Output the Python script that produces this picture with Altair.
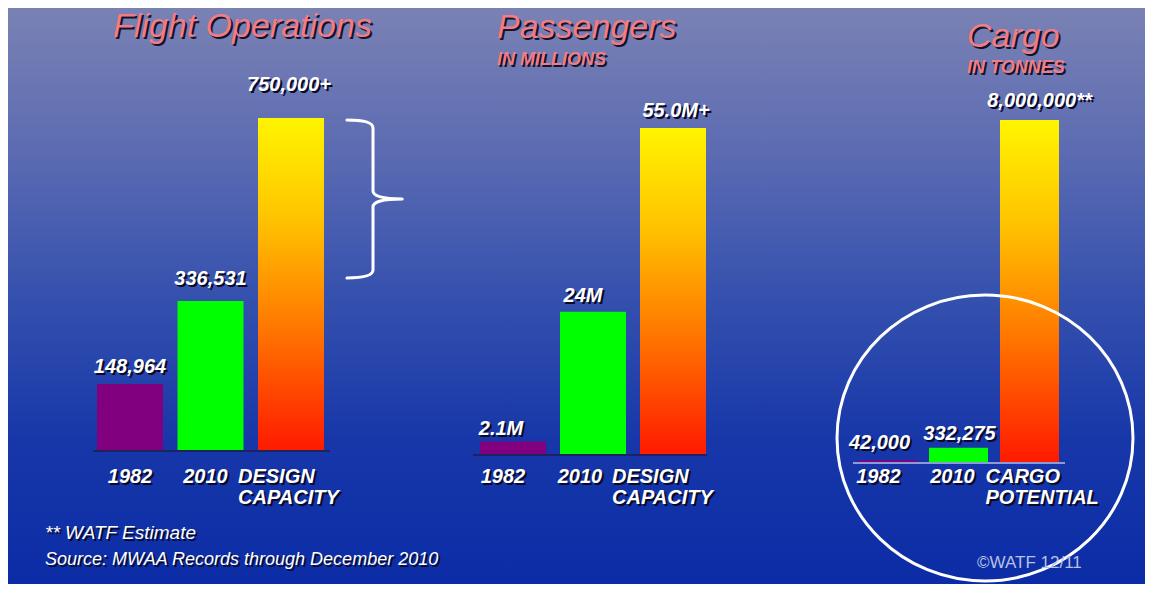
import altair as alt
import pandas as pd

FONT = "Liberation Sans"
HEIGHT = 576

# ---------------- data ----------------
FLIGHT_CATS = ["1982", "2010", "DESIGN\nCAPACITY"]
FLIGHT_VALUES = [148964, 336531, 750000]
FLIGHT_LABELS = ["148,964", "336,531", "750,000+"]

PAX_CATS = ["1982", "2010", "DESIGN\nCAPACITY"]
PAX_VALUES = [2.1, 24.0, 55.0]
PAX_LABELS = ["2.1M", "24M", "55.0M+"]

CARGO_CATS = ["1982", "2010", "CARGO\nPOTENTIAL"]
CARGO_VALUES = [42000, 332275, 8000000]
CARGO_LABELS = ["42,000", "332,275", "8,000,000**"]

# ---------------- styles ----------------
BAR_COLORS = ["#800080", "#00FF00", "#FF8000"]
TITLE_COLOR = "#F27C86"

BG_GRAD = alt.Gradient(
    gradient="linear",
    stops=[
        alt.GradientStop(color="#7A82B4", offset=0),
        alt.GradientStop(color="#5C6BB2", offset=0.25),
        alt.GradientStop(color="#3551AE", offset=0.5),
        alt.GradientStop(color="#1737A9", offset=0.75),
        alt.GradientStop(color="#0B2CA6", offset=1),
    ],
    x1=0, x2=0, y1=0, y2=1,
)
BAR_GRAD = alt.Gradient(
    gradient="linear",
    stops=[
        alt.GradientStop(color="#FFF500", offset=0),
        alt.GradientStop(color="#FFC400", offset=0.3),
        alt.GradientStop(color="#FF7A00", offset=0.62),
        alt.GradientStop(color="#FF1A00", offset=1),
    ],
    x1=0, x2=0, y1=0, y2=1,
)

BRACE = ("M -0.33 -1 Q 0 -1 0 -0.9 L 0 -0.1 Q 0 0 0.37 0 "
         "M 0.37 0 Q 0 0 0 0.1 L 0 0.9 Q 0 1 -0.33 1")
ELLIPSE = "M -1 0 A 1 0.966 0 1 1 1 0 A 1 0.966 0 1 1 -1 0 Z"

ONE = alt.Data(values=[{"k": 1}])


def shadow_text(data, encode, color, dx=0, dy=0, off=2, flt=None, shadow="#0A0A28", **kw):
    out = []
    for c, o in ((shadow, off), (color, 0)):
        ch = alt.Chart(data).mark_text(color=c, dx=dx + o, dy=dy + o, font=FONT, **kw).encode(**encode)
        if flt is not None:
            ch = ch.transform_filter(flt)
        out.append(ch)
    return out


def panel(cats, values, labels, width, xrange, pin, base, top, vdx, vdy, cdx,
          rule, rule_color, title, title_pos, sub, sub_y):
    df = pd.DataFrame({"cat": cats, "value": values, "label": labels,
                       "idx": [0, 1, 2], "fillc": BAR_COLORS})
    xs = alt.Scale(domain=cats, range=xrange, paddingInner=pin, paddingOuter=0)
    ys = alt.Scale(domain=[0, max(values)], range=[base, top], nice=False, zero=True)
    X = alt.X("cat:N", scale=xs, axis=None, sort=cats)
    Y = alt.Y("value:Q", scale=ys, axis=None)

    layers = []
    layers.append(alt.Chart(ONE).mark_rect(color=BG_GRAD).encode(
        x=alt.value(0), x2=alt.value(width), y=alt.value(0), y2=alt.value(HEIGHT)))
    layers.append(alt.Chart(df).mark_bar().encode(
        x=X, y=Y, color=alt.Color("fillc:N", scale=None)).transform_filter("datum.idx < 2"))
    layers.append(alt.Chart(df).mark_bar(color=BAR_GRAD).encode(
        x=X, y=Y).transform_filter("datum.idx == 2"))
    layers.append(alt.Chart(ONE).mark_rule(color=rule_color, strokeWidth=2).encode(
        x=alt.value(rule[0]), x2=alt.value(rule[1]), y=alt.value(base + 1)))

    for i in range(3):
        layers += shadow_text(df, {"x": X, "y": Y, "text": alt.Text("label:N")}, "white",
                              dx=vdx[i], dy=vdy[i], flt=f"datum.idx == {i}",
                              fontSize=20, fontStyle="italic", fontWeight="bold",
                              align="center", baseline="middle")
    for i in range(3):
        layers += shadow_text(df, {"x": X, "y": alt.value(459), "text": alt.Text("cat:N")}, "white",
                              dx=cdx[i], dy=0, flt=f"datum.idx == {i}",
                              fontSize=20, fontStyle="italic", fontWeight="bold",
                              align="center" if i < 2 else "left", baseline="top",
                              lineBreak="\n", lineHeight=21)

    layers += shadow_text(ONE, {"x": alt.value(title_pos[0]), "y": alt.value(title_pos[1])},
                          TITLE_COLOR, off=2, shadow="#141428", text=title, fontSize=34,
                          fontStyle="italic", align="left", baseline="alphabetic")
    if sub:
        layers += shadow_text(ONE, {"x": alt.value(title_pos[0]), "y": alt.value(sub_y)},
                              TITLE_COLOR, off=2, shadow="#141428", text=sub, fontSize=18,
                              fontStyle="italic", fontWeight="bold", align="left",
                              baseline="alphabetic")
    return layers


p1_layers = panel(FLIGHT_CATS, FLIGHT_VALUES, FLIGHT_LABELS, 442, [89, 316], 0.18, 442, 110,
                  [0, 0, -2], [-17, -22, -33], [0, -5, -53], (85, 322), "#1B2460",
                  "Flight Operations", (105, 29), None, None)
p1_layers.append(alt.Chart(ONE).mark_point(
    shape=BRACE, size=24964, filled=False, color="white", strokeWidth=3, opacity=1,
    strokeCap="round").encode(x=alt.value(365), y=alt.value(191)))
p1_layers += shadow_text(ONE, {"x": alt.value(37), "y": alt.value(525)}, "white",
                         text="** WATF Estimate", fontSize=19, fontStyle="italic",
                         align="left", baseline="middle")
p1_layers += shadow_text(ONE, {"x": alt.value(37), "y": alt.value(552)}, "white",
                         text="Source: MWAA Records through December 2010", fontSize=18,
                         fontStyle="italic", align="left", baseline="middle")
p1 = alt.layer(*p1_layers).properties(width=442, height=HEIGHT)

p2_layers = panel(PAX_CATS, PAX_VALUES, PAX_LABELS, 340, [30, 256], 0.175, 446, 120,
                  [-12, -10, 3], [-13, -16, -17], [-10, -13, -61], (23, 257), "#1B2460",
                  "Passengers", (47, 30), "IN MILLIONS", 57)
p2 = alt.layer(*p2_layers).properties(width=340, height=HEIGHT)

p3_layers = panel(CARGO_CATS, CARGO_VALUES, CARGO_LABELS, 355, [68, 269], 0.169, 454, 112,
                  [-8, 1, 10], [-17, -14, -19], [-9, -6, -44], (63, 275), "#8C9BD6",
                  "Cargo", (177, 39), "IN TONNES", 65)
p3_layers.append(alt.Chart(ONE).mark_point(
    shape=ELLIPSE, size=87616, filled=False, color="white", strokeWidth=3, opacity=1
).encode(x=alt.value(195), y=alt.value(430)))
p3_layers.append(alt.Chart(ONE).mark_text(
    text="©WATF 12/11", font=FONT, fontSize=17, color="#B9C1E2", align="left",
    baseline="middle").encode(x=alt.value(187), y=alt.value(555)))
p3 = alt.layer(*p3_layers).properties(width=355, height=HEIGHT)

chart = alt.hconcat(p1, p2, p3, spacing=0, bounds="flush").properties(
    padding=0
).configure_view(strokeWidth=0)

chart.save("out.html", embed_options={"renderer": "svg", "actions": False})
